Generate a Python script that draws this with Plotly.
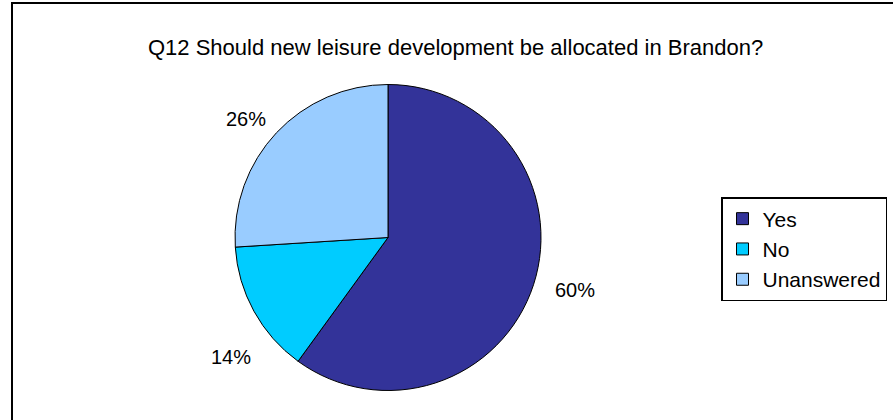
import math
import plotly.graph_objects as go

labels = ["Yes", "No", "Unanswered"]
values = [60, 14, 26]
colors = ["#333399", "#00CCFF", "#99CCFF"]
title = "Q12 Should new leisure development be allocated in Brandon?"

W, H = 893, 420
cx, cy, r = 388, 237.5, 153
FONT = "Liberation Sans, Arial"

fig = go.Figure(go.Pie(
    labels=labels, values=values, sort=False, direction="clockwise", rotation=0,
    marker=dict(colors=colors, line=dict(color="black", width=1)),
    textinfo="none", hoverinfo="label+percent",
    domain=dict(x=[(cx - r) / W, (cx + r) / W], y=[1 - (cy + r) / H, 1 - (cy - r) / H]),
))

# percentage labels placed outside, from each slice's mid angle
total = sum(values)
cum = 0
annotations = []
angle_shift = [-2.4, -8.3, -3.2]
radius_f = [1.27, 1.29, 1.21]
for v, sh, f in zip(values, angle_shift, radius_f):
    mid = (cum + v / 2) / total * 2 * math.pi + math.radians(sh)
    cum += v
    px = cx + f * r * math.sin(mid)
    py = cy - f * r * math.cos(mid)
    annotations.append(dict(x=px / W, y=1 - py / H, xref="paper", yref="paper",
                            xanchor="center", yanchor="middle",
                            text=f"{round(v / total * 100)}%", showarrow=False,
                            font=dict(family=FONT, size=20, color="black")))
annotations.append(dict(x=455 / W, y=1 - 47 / H, xref="paper", yref="paper", text=title,
                        xanchor="center", yanchor="middle",
                        showarrow=False, font=dict(family=FONT, size=22, color="black")))

fig.update_layout(
    width=W, height=H, margin=dict(l=0, r=0, t=0, b=0),
    paper_bgcolor="white", plot_bgcolor="white",
    annotations=annotations,
    legend=dict(x=721 / W, y=1 - 197 / H, xanchor="left", yanchor="top",
                bordercolor="black", borderwidth=1.5,
                font=dict(family=FONT, size=21, color="black"),
                itemwidth=30, tracegroupgap=0),
    shapes=[
        dict(type="line", xref="paper", yref="paper", x0=12 / W, x1=12 / W, y0=0, y1=1 - 2 / H,
             line=dict(color="black", width=2)),
        dict(type="line", xref="paper", yref="paper", x0=12 / W, x1=1, y0=1 - 3 / H, y1=1 - 3 / H,
             line=dict(color="black", width=2)),
    ],
)
fig.write_html("out.html", config={"displayModeBar": False},
               post_script="document.body.style.margin='0';document.body.style.overflow='hidden';")
